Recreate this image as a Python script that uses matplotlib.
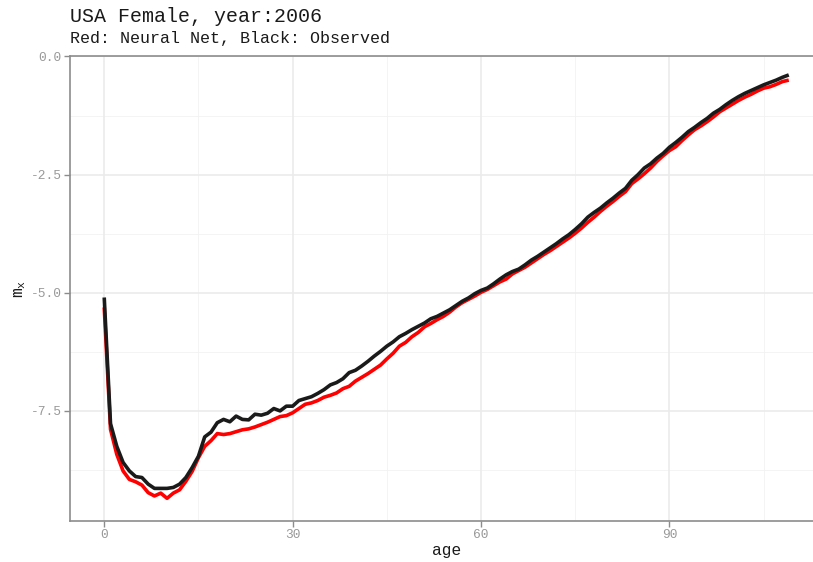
import matplotlib
matplotlib.use("Agg")
import matplotlib.pyplot as plt
import numpy as np

ages = list(range(0, 110))

observed = [
    -5.10, -7.77, -8.25, -8.59, -8.77, -8.89, -8.91, -9.05, -9.14, -9.14,
    -9.14, -9.12, -9.05, -8.91, -8.70, -8.46, -8.05, -7.95, -7.75, -7.68,
    -7.73, -7.61, -7.68, -7.69, -7.57, -7.59, -7.55, -7.45, -7.50, -7.40,
    -7.40, -7.28, -7.24, -7.20, -7.13, -7.05, -6.95, -6.90, -6.82, -6.69,
    -6.64, -6.55, -6.45, -6.34, -6.24, -6.13, -6.04, -5.93, -5.86, -5.78,
    -5.71, -5.64, -5.55, -5.50, -5.43, -5.36, -5.27, -5.18, -5.11, -5.02,
    -4.95, -4.90, -4.81, -4.71, -4.62, -4.55, -4.50, -4.41, -4.31, -4.23,
    -4.14, -4.05, -3.96, -3.86, -3.77, -3.66, -3.54, -3.40, -3.30, -3.21,
    -3.10, -3.00, -2.89, -2.79, -2.62, -2.50, -2.36, -2.27, -2.15, -2.05,
    -1.92, -1.82, -1.71, -1.59, -1.50, -1.40, -1.31, -1.20, -1.12, -1.02,
    -0.93, -0.85, -0.78, -0.72, -0.66, -0.60, -0.55, -0.50, -0.44, -0.39,
]

neural_net = [
    -5.31, -7.89, -8.42, -8.77, -8.95, -9.00, -9.07, -9.23, -9.30, -9.24,
    -9.35, -9.24, -9.17, -8.99, -8.78, -8.49, -8.25, -8.13, -7.98, -8.00,
    -7.98, -7.94, -7.90, -7.88, -7.84, -7.79, -7.74, -7.68, -7.62, -7.60,
    -7.54, -7.45, -7.36, -7.33, -7.28, -7.21, -7.17, -7.12, -7.03, -6.98,
    -6.87, -6.79, -6.71, -6.62, -6.53, -6.40, -6.28, -6.13, -6.05, -5.93,
    -5.84, -5.72, -5.65, -5.57, -5.50, -5.41, -5.30, -5.21, -5.14, -5.07,
    -4.99, -4.93, -4.85, -4.77, -4.71, -4.60, -4.53, -4.46, -4.37, -4.28,
    -4.19, -4.11, -4.02, -3.93, -3.84, -3.74, -3.63, -3.51, -3.40, -3.28,
    -3.17, -3.07, -2.96, -2.86, -2.69, -2.59, -2.48, -2.36, -2.22, -2.10,
    -1.99, -1.91, -1.78, -1.66, -1.55, -1.47, -1.38, -1.28, -1.17, -1.09,
    -1.01, -0.93, -0.86, -0.80, -0.73, -0.67, -0.64, -0.59, -0.53, -0.50,
]

x_ticks = [0, 30, 60, 90]
x_minor = [15, 45, 75, 105]
y_ticks = [0.0, -2.5, -5.0, -7.5]
y_tick_labels = ["0.0", "-2.5", "-5.0", "-7.5"]
y_minor = [-1.25, -3.75, -6.25, -8.75]

title = "USA Female, year:2006"
subtitle = "Red: Neural Net, Black: Observed"

plt.rcParams['font.family'] = ['Liberation Mono', 'DejaVu Sans Mono']
plt.rcParams['mathtext.fontset'] = 'custom'
plt.rcParams['mathtext.rm'] = 'Liberation Mono'
plt.rcParams['mathtext.it'] = 'Liberation Mono'

W, H = 813, 562
fig = plt.figure(figsize=(W / 100, H / 100), dpi=100)
left, right, top, bottom = 70, 823, 56.5, 521
ax = fig.add_axes([left / W, (H - bottom) / H, (right - left) / W, (bottom - top) / H])

ax.set_xlim(-5.45, 114.45)
ax.set_ylim(-9.83, 0.0)

grid_col = '#ebebeb'
for v in x_minor:
    ax.axvline(v, color='#f2f2f2', lw=0.6, zorder=0)
for v in y_minor:
    ax.axhline(v, color='#f2f2f2', lw=0.6, zorder=0)
for v in x_ticks:
    ax.axvline(v, color=grid_col, lw=1.2, zorder=0)
for v in y_ticks:
    ax.axhline(v, color=grid_col, lw=1.2, zorder=0)

ax.plot(ages, neural_net, color='#ff0000', lw=2.6, solid_capstyle='butt', zorder=2)
ax.plot(ages, observed, color='#1a1a1a', lw=2.6, solid_capstyle='butt', zorder=3)

ax.set_xticks(x_ticks)
ax.set_xticklabels([str(t) for t in x_ticks])
ax.set_yticks(y_ticks)
ax.set_yticklabels(y_tick_labels)
ax.tick_params(axis='both', colors='#8c8c8c', labelcolor='#999999', labelsize=9.3,
               length=4, width=1.0, pad=2)

for s in ['left', 'bottom', 'top', 'right']:
    ax.spines[s].set_color('#8c8c8c')
    ax.spines[s].set_linewidth(1.2)

ax.set_xlabel('age', fontsize=11.7, color='#1a1a1a', labelpad=1)
ax.set_ylabel(r'$\mathregular{m_x}$', fontsize=11.7, color='#1a1a1a', labelpad=2)

fig.text(left / W, 1 - 16 / H, title, fontsize=14.4, color='#1a1a1a', va='center', ha='left')
fig.text(left / W, 1 - 38 / H, subtitle, fontsize=12, color='#1a1a1a', va='center', ha='left')

fig.savefig('out.png', dpi=100)
